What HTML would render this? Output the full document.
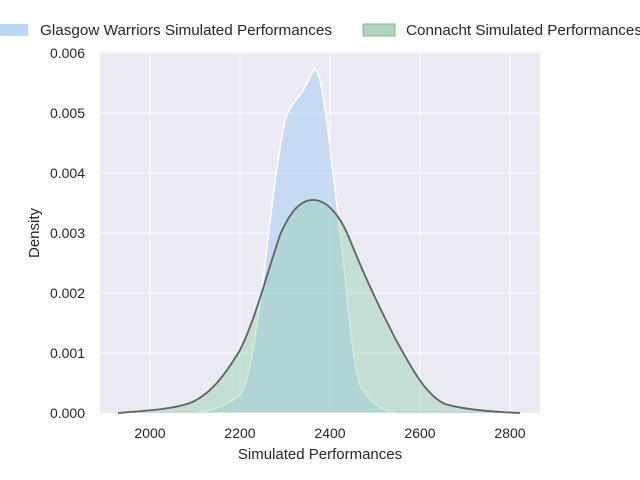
<!DOCTYPE html>
<html><head><style>body{margin:0;background:#fff}svg{display:block;font-family:"Liberation Sans",sans-serif}</style></head><body>
<svg width="640" height="480" viewBox="0 0 640 480">
<rect x="100" y="52" width="440" height="361" fill="#eaeaf2"/>
<g stroke="#fff" stroke-width="1">
<line x1="150" y1="52" x2="150" y2="413"/><line x1="240" y1="52" x2="240" y2="413"/><line x1="330" y1="52" x2="330" y2="413"/><line x1="420" y1="52" x2="420" y2="413"/><line x1="510" y1="52" x2="510" y2="413"/>
<line x1="100" y1="353" x2="540" y2="353"/><line x1="100" y1="293" x2="540" y2="293"/><line x1="100" y1="233" x2="540" y2="233"/><line x1="100" y1="173" x2="540" y2="173"/><line x1="100" y1="113" x2="540" y2="113"/><line x1="100" y1="53" x2="540" y2="53"/>
</g>
<path d="M195,413 C215,410 232,404 242,392 C250,375 255,340 262,290 C268,240 275,170 285,120 C290,105 296,100 300,95 C306,88 311,72 315,69 C320,72 323,95 328,130 C334,180 340,235 345,275 C349,320 353,360 360,385 C368,400 380,410 395,413 Z" fill="rgba(161,201,244,0.5)" stroke="#fff" stroke-width="1.5"/>
<path d="M118,413 C140,411 170,410 190,403 C210,395 225,375 240,350 C255,320 265,280 280,235 C290,212 300,200 313,200 C327,200 340,215 350,240 C362,270 378,305 395,338 C410,365 425,395 445,404 C465,410 495,412 520,413 Z" fill="rgba(141,205,165,0.4)" stroke="none"/>
<path d="M118,413 C140,411 170,410 190,403 C210,395 225,375 240,350 C255,320 265,280 280,235 C290,212 300,200 313,200 C327,200 340,215 350,240 C362,270 378,305 395,338 C410,365 425,395 445,404 C465,410 495,412 520,413" fill="none" stroke="#5f6363" stroke-width="1.8"/>
<g font-size="14" fill="#262626" text-anchor="end">
<text x="85" y="418">0.000</text><text x="85" y="358">0.001</text><text x="85" y="298">0.002</text><text x="85" y="238">0.003</text><text x="85" y="178">0.004</text><text x="85" y="118">0.005</text><text x="85" y="58">0.006</text>
</g>
<g font-size="14" fill="#262626" text-anchor="middle">
<text x="150" y="438">2000</text><text x="240" y="438">2200</text><text x="330" y="438">2400</text><text x="420" y="438">2600</text><text x="510" y="438">2800</text>
<text x="320" y="459" font-size="15">Simulated Performances</text>
<text transform="translate(39,233) rotate(-90)" font-size="15">Density</text>
</g>
<rect x="0" y="24" width="28" height="12" fill="#b7d6f3"/>
<text x="40" y="35" font-size="15" fill="#262626" textLength="292" lengthAdjust="spacingAndGlyphs">Glasgow Warriors Simulated Performances</text>
<rect x="363" y="24" width="32" height="12" fill="#acd6b8" stroke="#8fae99" stroke-width="1"/>
<text x="406" y="35" font-size="15" fill="#262626" textLength="236" lengthAdjust="spacingAndGlyphs">Connacht Simulated Performances</text>
</svg>
</body></html>
